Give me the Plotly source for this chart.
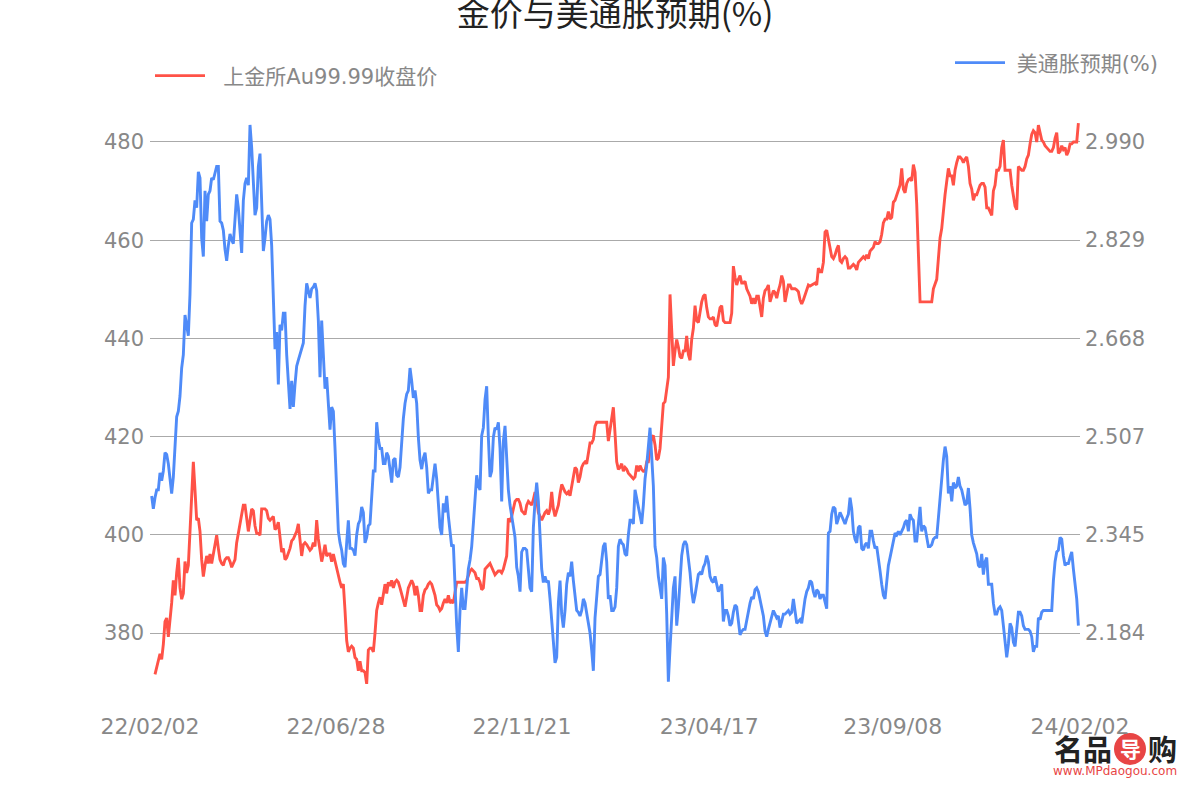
import numpy as np
import pandas as pd
import plotly.graph_objects as go

TITLE = "金价与美通胀预期(%)"
RED_NAME = "上金所Au99.99收盘价"
BLUE_NAME = "美通胀预期(%)"

# sampling of the series (calendar days from START)
START = "2022-02-02"
STEP_DAYS = 1.30833
RED_FIRST_DAY = 3.925
BLUE_FIRST_DAY = 1.308

red_vals = [
    371.57, 373.10, 374.63, 375.78, 374.63, 377.70, 382.30, 383.06, 379.23, 382.30,
    386.13, 390.73, 387.66, 392.26, 395.32, 389.19, 386.89, 388.04, 394.55, 392.26,
    393.79, 400.69, 406.82, 414.86, 409.11, 402.98, 403.37, 400.69, 394.94, 391.49,
    393.79, 395.70, 394.17, 396.09, 394.17, 396.09, 398.39, 399.92, 397.24, 394.94,
    394.17, 393.79, 394.94, 395.32, 395.32, 394.55, 393.40, 394.17, 394.94, 398.39,
    400.30, 401.45, 403.37, 406.05, 406.05, 402.60, 400.69, 402.98, 405.28, 404.90,
    401.84, 400.30, 400.30,
    399.92, 405.28, 405.28, 405.28, 404.90, 403.37, 402.98, 403.37, 403.75, 401.07,
    401.45, 402.60, 399.92, 396.47, 397.24, 394.94, 395.32, 396.09, 397.24, 398.77,
    399.15, 399.92, 400.69, 402.22, 399.15, 395.70, 398.00, 398.39, 398.00, 397.24,
    396.85, 397.24, 398.39, 397.62, 402.98, 399.15, 396.47, 394.55, 396.09, 398.00,
    395.70, 396.09, 396.09, 394.55, 396.09, 394.55, 393.40, 391.87, 390.34, 389.19,
    389.96, 384.59, 378.46, 376.16, 376.93, 377.31, 376.93, 375.01, 374.63, 372.33,
    374.25, 372.33, 372.33, 371.95, 369.65, 376.55, 376.93, 376.93, 376.16,
    379.99, 384.59, 386.13, 387.28, 385.75, 387.66, 389.96, 388.04, 390.34, 389.57,
    390.73, 389.19, 390.34, 390.73, 390.34, 389.19, 388.04, 386.51, 385.36, 387.28,
    389.19, 389.96, 390.73, 389.96, 387.66, 389.57, 387.66, 384.59, 384.59, 387.66,
    388.81, 389.19, 389.96, 390.34, 389.96, 388.81, 387.66, 385.75, 385.36, 384.59,
    384.98, 386.13, 386.89, 386.13, 387.66, 386.13, 386.51, 386.13, 388.43, 390.34,
    390.34, 390.34, 390.34, 390.34, 390.34, 390.73, 391.87, 392.64, 393.02, 392.64,
    392.26, 391.11, 391.11, 390.34, 388.81, 389.19, 393.02, 393.40, 393.79,
    394.17, 393.40, 392.64, 391.87, 392.26, 392.64, 392.64, 392.26, 393.02, 394.55,
    395.70, 403.37, 402.60, 403.75, 405.28, 406.82, 407.20, 407.20, 406.43, 404.90,
    404.52, 404.13, 406.05, 406.82, 406.43, 406.05, 407.20, 408.73, 407.20, 404.52,
    403.75, 402.98, 403.75, 404.52, 404.90, 404.13, 405.28, 408.73, 405.28, 403.75,
    404.90, 406.05, 408.35, 410.26, 409.49, 408.73, 408.35, 408.73, 407.97, 409.88,
    411.80, 413.72, 413.33, 410.65, 411.80, 413.72, 414.48, 414.86, 414.48, 417.16,
    418.70, 418.70, 419.46, 422.14, 422.91, 422.91, 422.91, 422.91, 422.91,
    422.91, 422.91, 419.08, 421.38, 423.68, 425.98, 420.61, 414.86, 413.33, 413.72,
    414.48, 412.95, 413.72, 413.33, 412.56, 412.18, 411.80, 411.41, 411.80, 414.10,
    412.95, 414.10, 413.33, 412.95, 412.95, 414.86, 414.86, 417.93, 419.85, 420.23,
    418.31, 415.25, 415.63, 417.54, 422.14, 426.74, 427.12, 429.81, 432.10, 448.96,
    442.07, 434.40, 437.47, 439.77, 438.24, 436.32, 435.94, 437.47, 437.47, 440.53,
    436.71, 435.55, 439.77, 442.07, 446.66, 443.60, 443.22, 445.90, 447.43, 448.58,
    448.96, 446.28, 444.37, 443.98, 443.98, 444.37, 442.84, 442.45, 444.75,
    446.28, 446.66, 443.60, 443.22, 443.22, 443.22, 443.22, 445.13, 454.71, 452.41,
    450.88, 452.03, 452.80, 451.26, 451.26, 451.65, 450.11, 449.35, 448.58, 447.05,
    448.20, 447.05, 448.58, 448.58, 446.28, 444.37, 448.20, 449.73, 450.11, 450.88,
    447.43, 448.58, 449.73, 449.35, 448.20, 449.73, 450.88, 452.80, 451.65, 447.43,
    448.96, 450.88, 450.88, 450.11, 450.11, 450.11, 449.88, 449.50, 447.81, 447.05,
    447.81, 448.96, 450.11, 450.88, 450.65, 450.88, 451.11, 451.26, 450.88, 454.33,
    453.56, 453.56, 455.48, 461.64, 462.01, 460.10, 458.95, 456.64, 456.25,
    457.01, 458.16, 458.93, 455.86, 455.48, 456.25, 456.63, 456.25, 454.33, 454.33,
    454.71, 455.09, 454.71, 453.94, 455.48, 455.86, 456.25, 456.63, 456.25, 457.01,
    456.25, 457.78, 458.16, 458.54, 459.69, 459.31, 459.31, 459.69, 461.22, 463.52,
    464.29, 464.29, 465.82, 464.29, 464.67, 467.74, 468.12, 469.27, 470.04, 471.19,
    474.63, 470.42, 469.65, 471.57, 472.34, 472.56, 472.10, 475.40, 473.87, 467.35,
    457.39, 447.43, 447.43, 447.43, 447.43, 447.43, 447.43, 447.43, 447.43, 450.11,
    450.88, 452.03, 456.25, 460.46, 462.37, 466.20, 469.27, 471.95, 474.63,
    473.10, 473.10, 471.19, 474.25, 475.78, 476.93, 476.93, 476.55, 475.78, 476.55,
    476.93, 475.02, 471.57, 470.42, 468.12, 469.27, 469.27, 470.42, 471.19, 471.57,
    471.57, 470.80, 466.59, 466.59, 465.82, 465.06, 470.04, 471.19, 474.25, 474.25,
    475.02, 478.85, 480.38, 474.25, 474.25, 474.25, 474.25, 471.19, 468.50, 466.97,
    466.20, 475.02, 474.63, 474.25, 474.25, 475.02, 476.55, 477.32, 479.62, 481.53,
    482.30, 481.91, 480.00, 483.45, 481.91, 480.38, 480.00, 479.23, 478.85, 478.47,
    478.08, 478.08, 478.85, 480.76, 481.91, 477.70, 478.08, 479.23, 478.47, 478.85,
    477.32, 478.08, 479.62, 479.62, 480.00, 480.00, 480.00, 483.83,
]

blue_vals = [
    2.409, 2.388, 2.406, 2.419, 2.419, 2.447, 2.434, 2.450, 2.480, 2.477,
    2.462, 2.431, 2.413, 2.440, 2.493, 2.539, 2.548, 2.573, 2.619, 2.641,
    2.706, 2.690, 2.672, 2.740, 2.857, 2.863, 2.894, 2.882, 2.941, 2.931,
    2.832, 2.802, 2.910, 2.860, 2.904, 2.910, 2.931, 2.928, 2.941, 2.950,
    2.950, 2.860, 2.857, 2.845, 2.814, 2.795, 2.820, 2.839, 2.829, 2.823,
    2.863, 2.904, 2.882, 2.839, 2.808, 2.894, 2.922, 2.931, 2.919, 3.018,
    2.981, 2.925, 2.870, 2.882, 2.950,
    2.971, 2.882, 2.811, 2.832, 2.860, 2.870, 2.863, 2.820, 2.734, 2.650,
    2.678, 2.592, 2.690, 2.681, 2.709, 2.709, 2.641, 2.585, 2.552, 2.598,
    2.555, 2.592, 2.622, 2.632, 2.641, 2.650, 2.660, 2.721, 2.758, 2.746,
    2.734, 2.749, 2.752, 2.758, 2.746, 2.697, 2.604, 2.697, 2.641, 2.585,
    2.604, 2.567, 2.518, 2.555, 2.548, 2.487, 2.425, 2.351, 2.332, 2.320,
    2.298, 2.292, 2.332, 2.369, 2.323, 2.323, 2.320, 2.311, 2.345, 2.363,
    2.369, 2.391, 2.382, 2.332, 2.341, 2.360, 2.363, 2.400, 2.450,
    2.450, 2.530, 2.502, 2.487, 2.487, 2.462, 2.462, 2.480, 2.474, 2.450,
    2.431, 2.468, 2.471, 2.443, 2.440, 2.456, 2.499, 2.536, 2.561, 2.576,
    2.582, 2.619, 2.598, 2.570, 2.582, 2.561, 2.505, 2.468, 2.453, 2.471,
    2.480, 2.456, 2.413, 2.419, 2.419, 2.440, 2.462, 2.437, 2.394, 2.357,
    2.345, 2.397, 2.382, 2.409, 2.376, 2.351, 2.326, 2.329, 2.258, 2.196,
    2.153, 2.221, 2.258, 2.224, 2.224, 2.252, 2.289, 2.304, 2.326, 2.363,
    2.413, 2.443, 2.425, 2.419, 2.508, 2.521, 2.567, 2.589, 2.505,
    2.440, 2.450, 2.505, 2.521, 2.518, 2.530, 2.487, 2.400, 2.499, 2.524,
    2.474, 2.419, 2.394, 2.376, 2.363, 2.341, 2.292, 2.277, 2.252, 2.317,
    2.323, 2.323, 2.320, 2.283, 2.258, 2.252, 2.357, 2.400, 2.431, 2.400,
    2.351, 2.289, 2.267, 2.277, 2.267, 2.270, 2.240, 2.200, 2.166, 2.135,
    2.144, 2.233, 2.270, 2.215, 2.193, 2.221, 2.264, 2.283, 2.277, 2.301,
    2.270, 2.249, 2.221, 2.218, 2.212, 2.221, 2.240, 2.233, 2.215, 2.200,
    2.184, 2.156, 2.122, 2.209, 2.252, 2.277, 2.280, 2.308, 2.326,
    2.332, 2.301, 2.240, 2.246, 2.221, 2.221, 2.227, 2.258, 2.326, 2.338,
    2.332, 2.329, 2.314, 2.311, 2.345, 2.369, 2.369, 2.363, 2.419, 2.406,
    2.394, 2.379, 2.363, 2.394, 2.437, 2.459, 2.499, 2.521, 2.474, 2.425,
    2.326, 2.308, 2.277, 2.258, 2.240, 2.308, 2.295, 2.215, 2.104, 2.159,
    2.215, 2.258, 2.277, 2.196, 2.227, 2.264, 2.311, 2.329, 2.335, 2.329,
    2.308, 2.283, 2.252, 2.233, 2.246, 2.261, 2.280, 2.283, 2.280, 2.292,
    2.298, 2.311, 2.301, 2.277, 2.270, 2.267, 2.277, 2.264, 2.252,
    2.258, 2.264, 2.203, 2.221, 2.221, 2.212, 2.196, 2.200, 2.218, 2.230,
    2.227, 2.203, 2.181, 2.187, 2.190, 2.190, 2.206, 2.224, 2.233, 2.243,
    2.240, 2.255, 2.258, 2.252, 2.240, 2.227, 2.212, 2.187, 2.178, 2.190,
    2.200, 2.212, 2.221, 2.215, 2.209, 2.212, 2.193, 2.203, 2.215, 2.215,
    2.218, 2.221, 2.215, 2.218, 2.240, 2.221, 2.200, 2.203, 2.206, 2.200,
    2.221, 2.240, 2.252, 2.258, 2.270, 2.267, 2.252, 2.243, 2.255, 2.252,
    2.240, 2.246, 2.246, 2.233, 2.224, 2.348, 2.351, 2.379, 2.391,
    2.388, 2.363, 2.372, 2.382, 2.376, 2.369, 2.363, 2.372, 2.379, 2.406,
    2.388, 2.351, 2.338, 2.332, 2.357, 2.360, 2.323, 2.320, 2.329, 2.332,
    2.323, 2.351, 2.351, 2.335, 2.323, 2.326, 2.301, 2.286, 2.264, 2.246,
    2.240, 2.270, 2.295, 2.308, 2.320, 2.332, 2.348, 2.345, 2.351, 2.345,
    2.351, 2.357, 2.366, 2.369, 2.351, 2.379, 2.372, 2.369, 2.335, 2.335,
    2.363, 2.391, 2.351, 2.360, 2.357, 2.341, 2.326, 2.326, 2.329, 2.338,
    2.341, 2.341, 2.376, 2.406, 2.437, 2.468, 2.490, 2.474, 2.413,
    2.425, 2.400, 2.431, 2.422, 2.425, 2.440, 2.425, 2.419, 2.406, 2.394,
    2.397, 2.422, 2.388, 2.345, 2.332, 2.323, 2.314, 2.295, 2.292, 2.314,
    2.280, 2.301, 2.308, 2.264, 2.264, 2.264, 2.233, 2.215, 2.215, 2.224,
    2.227, 2.221, 2.196, 2.166, 2.144, 2.166, 2.200, 2.193, 2.169, 2.162,
    2.190, 2.218, 2.218, 2.212, 2.196, 2.190, 2.190, 2.190, 2.187, 2.178,
    2.153, 2.162, 2.162, 2.209, 2.206, 2.218, 2.221, 2.221, 2.221, 2.221,
    2.221, 2.221, 2.270, 2.301, 2.317, 2.320, 2.341, 2.338, 2.311, 2.295,
    2.298, 2.298, 2.308, 2.317, 2.289, 2.261, 2.240, 2.196,
]

x_tick_dates = ["2022-02-02", "2022-06-28", "2022-11-21", "2023-04-17", "2023-09-08", "2024-02-02"]
x_tick_text = ["22/02/02", "22/06/28", "22/11/21", "23/04/17", "23/09/08", "24/02/02"]
left_ticks = [380, 400, 420, 440, 460, 480]
right_ticks = [2.184, 2.345, 2.507, 2.668, 2.829, 2.990]
right_tick_text = ["2.184", "2.345", "2.507", "2.668", "2.829", "2.990"]

start = pd.Timestamp(START)
red_x = start + pd.to_timedelta(RED_FIRST_DAY + np.arange(len(red_vals)) * STEP_DAYS, unit="D")
blue_x = start + pd.to_timedelta(BLUE_FIRST_DAY + np.arange(len(blue_vals)) * STEP_DAYS, unit="D")

RED = "#FF5247"
BLUE = "#4F8BF8"
GRAY = "#888888"
LOGO_RED = "#E84545"
FONT = "DejaVu Sans, Noto Sans CJK SC, sans-serif"
CJK = "Noto Sans CJK SC, sans-serif"
NBSP = "\u00a0"

# axis ranges (right axis aligned to left gridlines)
left_range = [365.34, 485.09]
scale = (right_ticks[-1] - right_ticks[0]) / (left_ticks[-1] - left_ticks[0])
right_range = [right_ticks[0] + (v - left_ticks[0]) * scale for v in left_range]

fig = go.Figure()
fig.add_trace(go.Scatter(x=red_x, y=red_vals, mode="lines", name=NBSP * 2 + RED_NAME,
                         line=dict(color=RED, width=2.9), legend="legend"))
fig.add_trace(go.Scatter(x=blue_x, y=blue_vals, mode="lines", name=NBSP + BLUE_NAME, yaxis="y2",
                         line=dict(color=BLUE, width=2.9), legend="legend2"))

fig.update_layout(
    width=1200, height=800,
    paper_bgcolor="white", plot_bgcolor="white",
    margin=dict(l=150, r=120, t=117, b=95, autoexpand=False),
    font=dict(family=FONT, size=21, color=GRAY),
    title=dict(text=TITLE, x=0.5, xref="paper", y=1 - 14 / 800, yref="container",
               xanchor="center", yanchor="middle",
               font=dict(family=CJK, size=33, color="#222222")),
    xaxis=dict(type="date", range=[x_tick_dates[0], x_tick_dates[-1]],
               tickvals=x_tick_dates, ticktext=x_tick_text, tickangle=0,
               showgrid=False, showline=False, zeroline=False, ticks="",
               ticklabelstandoff=6, tickfont=dict(size=22, color=GRAY)),
    yaxis=dict(range=left_range, tickvals=left_ticks, ticktext=[str(t) for t in left_ticks],
               showgrid=True, gridcolor="#AAAAAA", gridwidth=1, zeroline=False,
               showline=False, ticks="", ticklabelstandoff=5,
               tickfont=dict(size=21, color=GRAY)),
    yaxis2=dict(range=right_range, tickvals=right_ticks, ticktext=right_tick_text,
                overlaying="y", side="right", showgrid=False, zeroline=False,
                showline=False, ticks="", ticklabelstandoff=4,
                tickfont=dict(size=21, color=GRAY)),
    legend=dict(xref="container", yref="container", x=150 / 1200, y=1 - 76 / 800,
                xanchor="left", yanchor="middle", itemwidth=50,
                bgcolor="rgba(0,0,0,0)", font=dict(size=21, color=GRAY)),
    legend2=dict(xref="container", yref="container", x=950 / 1200, y=1 - 63 / 800,
                 xanchor="left", yanchor="middle", itemwidth=50,
                 bgcolor="rgba(0,0,0,0)", font=dict(size=21, color=GRAY)),
    showlegend=True,
)

# watermark logo (bottom right)
def px_x(p):
    return (p - 150) / 930

def px_y(p):
    return (705 - p) / 588

fig.add_shape(type="circle", xref="paper", yref="paper", layer="below",
              x0=px_x(1114), x1=px_x(1146), y0=px_y(765), y1=px_y(733),
              fillcolor=LOGO_RED, line=dict(width=0))
for txt, cx, size, color in [("名品", 1083, 29, "#222222"), ("导", 1130, 21, "white"),
                             ("购", 1162, 29, "#222222")]:
    fig.add_annotation(text="<b>" + txt + "</b>", xref="paper", yref="paper",
                       x=px_x(cx), y=px_y(748), xanchor="center", yanchor="middle",
                       showarrow=False, font=dict(family=CJK, size=size, color=color))
fig.add_annotation(text="www.MPdaogou.com", xref="paper", yref="paper",
                   x=px_x(1115), y=px_y(771), xanchor="center", yanchor="middle",
                   showarrow=False, font=dict(family="DejaVu Sans", size=12, color=LOGO_RED))

fig.write_html("out.html")
